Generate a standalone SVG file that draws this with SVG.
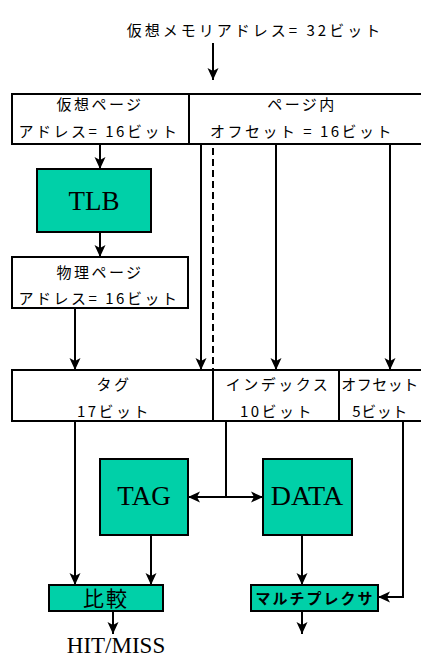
<svg xmlns="http://www.w3.org/2000/svg" width="421" height="658" viewBox="0 0 421 658">
<style>
.jp{font-family:"Noto Sans CJK JP","Noto Sans",sans-serif;font-size:15px;letter-spacing:2.5px;text-anchor:middle;fill:#000}
.tight{letter-spacing:0.5px}
.big{font-family:"Noto Sans CJK JP",sans-serif;font-size:21px;letter-spacing:2px;text-anchor:middle;fill:#000}
.mux{font-family:"Noto Sans CJK JP",sans-serif;font-size:15px;font-weight:bold;letter-spacing:2px;text-anchor:middle;fill:#000}
.serif{font-family:"Liberation Serif",serif;font-size:27px;text-anchor:middle;fill:#000}
.box{fill:#fff;stroke:#000;stroke-width:2}
.unit{fill:#00D0A8;stroke:#000;stroke-width:2}
.ln{fill:none;stroke:#000;stroke-width:2}
.dash{fill:none;stroke:#000;stroke-width:2;stroke-dasharray:7,4}
</style>
<defs>
<marker id="arr" viewBox="0 0 12 12" refX="12" refY="6" markerWidth="12" markerHeight="12" markerUnits="userSpaceOnUse" orient="auto">
<path d="M0,0.5 L3,6 L0,11.5 L12,6 z" fill="#000"/>
</marker>
<marker id="arrs" viewBox="0 0 12 12" refX="0" refY="6" markerWidth="12" markerHeight="12" markerUnits="userSpaceOnUse" orient="auto">
<path d="M12,0.5 L9,6 L12,11.5 L0,6 z" fill="#000"/>
</marker>
</defs>

<g id="title">
<text class="jp" x="255" y="36" style="letter-spacing:3px">仮想メモリアドレス= 32ビット</text>
</g>

<g id="vaddr">
<rect class="box" x="12" y="94" width="420" height="50"/>
<line class="ln" x1="189" y1="94" x2="189" y2="144"/>
<text class="jp" x="100" y="110">仮想ページ</text>
<text class="jp" x="99" y="137">アドレス= 16ビット</text>
<text class="jp" x="302" y="110">ページ内</text>
<text class="jp" x="302" y="137">オフセット = 16ビット</text>
</g>

<g id="tlb">
<rect class="unit" x="37" y="169" width="114" height="63"/>
<text class="serif" x="94" y="210">TLB</text>
</g>

<g id="paddr">
<rect class="box" x="12" y="257" width="176" height="51"/>
<text class="jp" x="100" y="278">物理ページ</text>
<text class="jp" x="99" y="304">アドレス= 16ビット</text>
</g>

<g id="split">
<rect class="box" x="12" y="370" width="420" height="51"/>
<line class="ln" x1="213" y1="370" x2="213" y2="421"/>
<line class="ln" x1="339" y1="370" x2="339" y2="421"/>
<text class="jp" x="114" y="390">タグ</text>
<text class="jp" x="114" y="417">17ビット</text>
<text class="jp" x="278" y="390">インデックス</text>
<text class="jp" x="277" y="417">10ビット</text>
<text class="jp tight" x="380" y="390">オフセット</text>
<text class="jp tight" x="380" y="417">5ビット</text>
</g>

<g id="tag">
<rect class="unit" x="100" y="459" width="88" height="76"/>
<text class="serif" x="144" y="505">TAG</text>
</g>

<g id="data">
<rect class="unit" x="263" y="459" width="89" height="76"/>
<text class="serif" x="307" y="505" style="font-size:28px">DATA</text>
</g>

<g id="compare">
<rect class="unit" x="49" y="585" width="114" height="26"/>
<text class="big" x="106" y="606">比較</text>
</g>

<g id="mux">
<rect class="unit" x="251" y="585" width="127" height="26"/>
<text class="mux" x="315" y="604">マルチプレクサ</text>
</g>

<g id="result">
<text class="serif" x="116" y="653" style="font-size:23px">HIT/MISS</text>
</g>

<g id="connectors">
<line class="ln" x1="213" y1="43" x2="213" y2="80" marker-end="url(#arr)"/>
<line class="ln" x1="100" y1="144" x2="100" y2="169" marker-end="url(#arr)"/>
<line class="ln" x1="100" y1="232" x2="100" y2="257" marker-end="url(#arr)"/>
<line class="ln" x1="75" y1="308" x2="75" y2="370" marker-end="url(#arr)"/>
<line class="ln" x1="201" y1="144" x2="201" y2="370" marker-end="url(#arr)"/>
<line class="dash" x1="213" y1="148" x2="213" y2="370"/>
<line class="ln" x1="276" y1="144" x2="276" y2="370" marker-end="url(#arr)"/>
<line class="ln" x1="390" y1="144" x2="390" y2="370" marker-end="url(#arr)"/>
<line class="ln" x1="75" y1="421" x2="75" y2="585" marker-end="url(#arr)"/>
<line class="ln" x1="226" y1="421" x2="226" y2="497"/>
<line class="ln" x1="188" y1="497" x2="263" y2="497" marker-start="url(#arrs)" marker-end="url(#arr)"/>
<polyline class="ln" points="403,421 403,597 378,597" marker-end="url(#arr)"/>
<line class="ln" x1="151" y1="535" x2="151" y2="585" marker-end="url(#arr)"/>
<line class="ln" x1="302" y1="535" x2="302" y2="585" marker-end="url(#arr)"/>
<line class="ln" x1="113" y1="611" x2="113" y2="634" marker-end="url(#arr)"/>
<line class="ln" x1="302" y1="611" x2="302" y2="634" marker-end="url(#arr)"/>
</g>
</svg>
